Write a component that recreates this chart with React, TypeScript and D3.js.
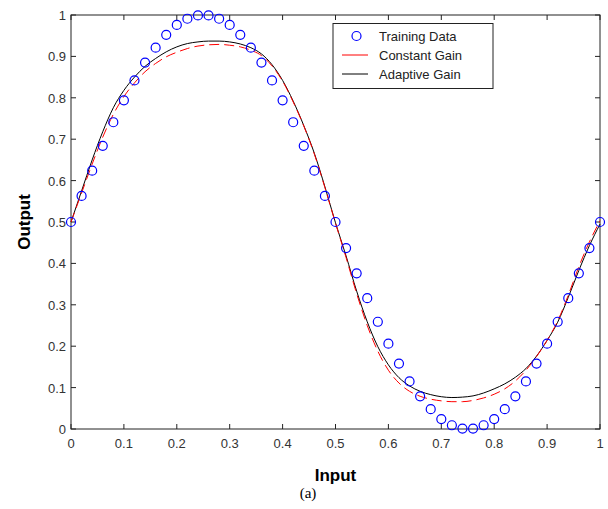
import React, { useEffect, useRef } from 'react';
import * as d3 from 'd3';

// training samples
const trainX = [
  0, 0.02, 0.04, 0.06, 0.08, 0.1, 0.12, 0.14, 0.16, 0.18, 0.2, 0.22, 0.24, 0.26, 0.28, 0.3, 0.32,
  0.34, 0.36, 0.38, 0.4, 0.42, 0.44, 0.46, 0.48, 0.5, 0.52, 0.54, 0.56, 0.58, 0.6, 0.62, 0.64,
  0.66, 0.68, 0.7, 0.72, 0.74, 0.76, 0.78, 0.8, 0.82, 0.84, 0.86, 0.88, 0.9, 0.92, 0.94, 0.96,
  0.98, 1,
];
const trainY = [
  0.5, 0.563, 0.624, 0.684, 0.741, 0.794, 0.842, 0.885, 0.921, 0.952, 0.976, 0.991, 0.999, 0.999,
  0.991, 0.976, 0.952, 0.921, 0.885, 0.842, 0.794, 0.741, 0.684, 0.624, 0.563, 0.5, 0.437, 0.376,
  0.316, 0.259, 0.206, 0.158, 0.115, 0.079, 0.048, 0.024, 0.009, 0.001, 0.001, 0.009, 0.024,
  0.048, 0.079, 0.115, 0.158, 0.206, 0.259, 0.316, 0.376, 0.437, 0.5,
];

// network outputs, read at every 0.02
const curveX = trainX;
const constantGain = [
  0.5, 0.57, 0.64, 0.705, 0.76, 0.803, 0.836, 0.863, 0.883, 0.899, 0.91, 0.919, 0.925, 0.928,
  0.929, 0.927, 0.923, 0.915, 0.902, 0.877, 0.84, 0.79, 0.732, 0.664, 0.583, 0.497, 0.414,
  0.327, 0.25, 0.188, 0.142, 0.111, 0.091, 0.079, 0.072, 0.068, 0.066, 0.066, 0.069, 0.075,
  0.084, 0.097, 0.116, 0.142, 0.175, 0.214, 0.261, 0.323, 0.392, 0.452, 0.503,
];
const adaptiveGain = [
  0.5, 0.575, 0.65, 0.718, 0.776, 0.818, 0.85, 0.876, 0.895, 0.911, 0.923, 0.931, 0.935, 0.937,
  0.937, 0.935, 0.93, 0.921, 0.906, 0.88, 0.842, 0.792, 0.733, 0.666, 0.585, 0.498, 0.418,
  0.333, 0.259, 0.199, 0.155, 0.124, 0.104, 0.091, 0.083, 0.078, 0.076, 0.077, 0.08, 0.087,
  0.097, 0.109, 0.125, 0.146, 0.176, 0.214, 0.258, 0.318, 0.383, 0.443, 0.495,
];

const xTicks = [0, 0.1, 0.2, 0.3, 0.4, 0.5, 0.6, 0.7, 0.8, 0.9, 1];
const yTicks = [0, 0.1, 0.2, 0.3, 0.4, 0.5, 0.6, 0.7, 0.8, 0.9, 1];
const legendLabels = ['Training Data', 'Constant Gain', 'Adaptive Gain'];

const App = () => {
  const svgRef = useRef<SVGSVGElement>(null);

  useEffect(() => {
    const svg = d3.select(svgRef.current);
    svg.selectAll('*').remove();

    const left = 71, right = 600, top = 15, bottom = 429;
    const font = 'Arial, "Liberation Sans", sans-serif';

    const x = d3.scaleLinear().domain([0, 1]).range([left, right]);
    const y = d3.scaleLinear().domain([0, 1]).range([bottom, top]);

    svg.append('rect').attr('width', 608).attr('height', 509).attr('fill', '#fff');

    // frame
    svg.append('rect')
      .attr('x', left).attr('y', top)
      .attr('width', right - left).attr('height', bottom - top)
      .attr('fill', 'none').attr('stroke', '#222').attr('stroke-width', 1);

    // ticks, inward on all four sides
    const tk = 5;
    const g = svg.append('g').attr('stroke', '#222').attr('stroke-width', 1);
    xTicks.forEach(t => {
      g.append('line').attr('x1', x(t)).attr('x2', x(t)).attr('y1', bottom).attr('y2', bottom - tk);
      g.append('line').attr('x1', x(t)).attr('x2', x(t)).attr('y1', top).attr('y2', top + tk);
    });
    yTicks.forEach(t => {
      g.append('line').attr('x1', left).attr('x2', left + tk).attr('y1', y(t)).attr('y2', y(t));
      g.append('line').attr('x1', right).attr('x2', right - tk).attr('y1', y(t)).attr('y2', y(t));
    });

    svg.append('g').selectAll('text')
      .data(xTicks).enter().append('text')
      .attr('x', d => x(d)).attr('y', bottom + 19)
      .attr('text-anchor', 'middle')
      .attr('font-family', font).attr('font-size', 13).attr('fill', '#333')
      .text(d => d3.format('~g')(d));

    svg.append('g').selectAll('text')
      .data(yTicks).enter().append('text')
      .attr('x', left - 5).attr('y', d => y(d) + 5)
      .attr('text-anchor', 'end')
      .attr('font-family', font).attr('font-size', 13).attr('fill', '#333')
      .text(d => d3.format('~g')(d));

    // curves
    const line = d3.line<number>()
      .x((_, i) => x(curveX[i]))
      .y(d => y(d))
      .curve(d3.curveMonotoneX);

    svg.append('path').datum(adaptiveGain)
      .attr('d', line).attr('fill', 'none')
      .attr('stroke', '#000').attr('stroke-width', 1);

    svg.append('path').datum(constantGain)
      .attr('d', line).attr('fill', 'none')
      .attr('stroke', '#ff0000').attr('stroke-width', 1)
      .attr('stroke-dasharray', '10,5');

    svg.append('g').selectAll('circle')
      .data(trainY).enter().append('circle')
      .attr('cx', (_, i) => x(trainX[i])).attr('cy', d => y(d))
      .attr('r', 4.5).attr('fill', 'none')
      .attr('stroke', '#0000ff').attr('stroke-width', 1.2);

    // axis labels
    svg.append('text')
      .attr('x', (left + right) / 2).attr('y', 481)
      .attr('text-anchor', 'middle')
      .attr('font-family', font).attr('font-size', 17).attr('font-weight', 'bold')
      .text('Input');

    svg.append('text')
      .attr('transform', `translate(30,${(top + bottom) / 2}) rotate(-90)`)
      .attr('text-anchor', 'middle')
      .attr('font-family', font).attr('font-size', 17).attr('font-weight', 'bold')
      .text('Output');

    svg.append('text')
      .attr('x', 308).attr('y', 498)
      .attr('text-anchor', 'middle')
      .attr('font-family', '"Times New Roman", "Liberation Serif", serif').attr('font-size', 15)
      .text('(a)');

    // legend
    const lg = svg.append('g');
    lg.append('rect')
      .attr('x', 333).attr('y', 23.5).attr('width', 160).attr('height', 65)
      .attr('fill', '#fff').attr('stroke', '#222').attr('stroke-width', 1);
    const rows = [36, 55, 74];
    lg.append('circle').attr('cx', 356.5).attr('cy', rows[0]).attr('r', 4.5)
      .attr('fill', 'none').attr('stroke', '#0000ff').attr('stroke-width', 1.2);
    lg.append('line').attr('x1', 342).attr('x2', 368).attr('y1', rows[1]).attr('y2', rows[1])
      .attr('stroke', '#ff0000');
    lg.append('line').attr('x1', 342).attr('x2', 368).attr('y1', rows[2]).attr('y2', rows[2])
      .attr('stroke', '#000');
    legendLabels.forEach((t, i) => {
      lg.append('text')
        .attr('x', 379).attr('y', rows[i] + 5)
        .attr('font-family', font).attr('font-size', 13).attr('fill', '#222')
        .text(t);
    });
  }, []);

  return (
    <div style={{ position: 'absolute', left: 0, top: 0 }}>
      <svg ref={svgRef} width={608} height={509} style={{ display: 'block' }} />
    </div>
  );
};

export default App;
